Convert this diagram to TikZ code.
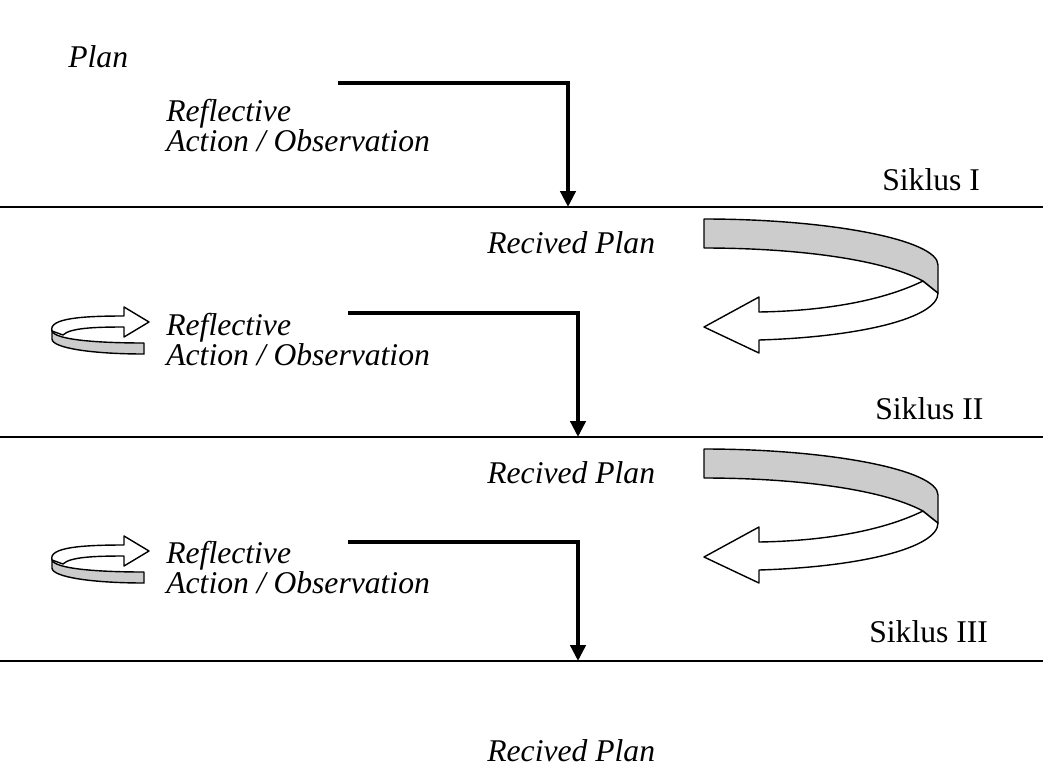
\documentclass[tikz,border=0pt]{standalone}
\usepackage{fontspec}
\setmainfont{Liberation Serif}
\usetikzlibrary{arrows.meta}

\begin{document}
\begin{tikzpicture}[
    x=0.02cm, y=-0.02cm,
    lbl/.style={inner sep=0pt, anchor=base west, align=left, font={\fontsize{18}{16.8}\selectfont\itshape\lineskiplimit=-20pt}},
    cyc/.style={inner sep=0pt, anchor=base west, font=\fontsize{18}{16.8}\selectfont},
    cut/.style={line width=1.3pt},
    flow/.style={line width=2.5pt, -{Triangle[length=9pt, width=8.5pt]}},
    band/.style={draw, line width=0.8pt, line join=round, fill=#1},
    band/.default=black!20,
]
    \useasboundingbox (0,0) rectangle (1043,767);

    % Texts (base = last line)
    \node[lbl] (plan) at (68,68) {Plan};
    \node[lbl] (refl1) at (166,151) {Reflective\\Action / Observation};
    \node[cyc] (sik1) at (882,190) {Siklus I};
    \node[lbl] (rec1) at (487,253) {Recived Plan};
    \node[lbl] (refl2) at (166,365) {Reflective\\Action / Observation};
    \node[cyc] (sik2) at (875,419) {Siklus II};
    \node[lbl] (rec2) at (487,483) {Recived Plan};
    \node[lbl] (refl3) at (166,593) {Reflective\\Action / Observation};
    \node[cyc] (sik3) at (869,642) {Siklus III};
    \node[lbl] (rec3) at (487,761) {Recived Plan};

    % Cycle borders
    \coordinate (cut1w) at (0,207);    \coordinate (cut1e) at (1043,207);
    \coordinate (cut2w) at (0,437);    \coordinate (cut2e) at (1043,437);
    \coordinate (cut3w) at (0,661);    \coordinate (cut3e) at (1043,661);
    \draw[cut] (cut1w) -- (cut1e);
    \draw[cut] (cut2w) -- (cut2e);
    \draw[cut] (cut3w) -- (cut3e);

    % Action arrows
    \coordinate (act1) at (338,83);    \coordinate (act1end) at (568,207);
    \coordinate (act2) at (348,313);   \coordinate (act2end) at (578,437);
    \coordinate (act3) at (348,542);   \coordinate (act3end) at (578,661);
    \draw[flow] (act1) -| (act1end);
    \draw[flow] (act2) -| (act2end);
    \draw[flow] (act3) -| (act3end);

    % Big turn arrows
    \foreach \dy in {0,230} {
    \begin{scope}[shift={(0,\dy)}]
        \draw[band=white] (923,281) .. controls (880,302) and (820,311) .. (759,312)
            -- (759,297) -- (704,327) -- (759,353) -- (759,340)
            .. controls (860,337) and (938,318) .. (938,293) -- cycle;
        \draw[band] (704,219) .. controls (830,219) and (938,240) .. (938,265)
            -- (938,293) -- (923,281) .. controls (880,258) and (790,248) .. (704,248) -- cycle;
    \end{scope}
    }

    % Small turn arrows
    \foreach \dy in {0,229} {
    \begin{scope}[shift={(0,\dy)}]
        \draw[band=white] (52,331) .. controls (48,318) and (84,316) .. (124,316)
            -- (124,307) -- (149,322) -- (124,337) -- (124,327)
            .. controls (94,327) and (70,328) .. (63,335) -- cycle;
        \draw[band] (52,331) .. controls (55,340) and (99,343) .. (144,343)
            -- (144,354) .. controls (92,354) and (52,348) .. (52,339) -- cycle;
    \end{scope}
    }
\end{tikzpicture}
\end{document}
